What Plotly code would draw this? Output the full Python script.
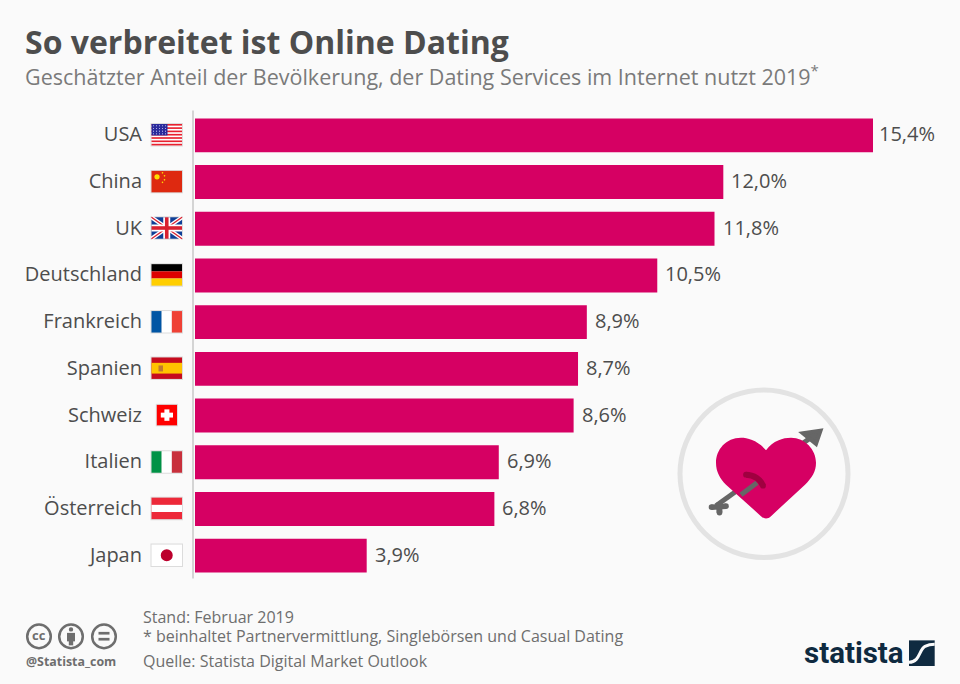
import plotly.graph_objects as go

countries = ["USA", "China", "UK", "Deutschland", "Frankreich", "Spanien", "Schweiz", "Italien", "Österreich", "Japan"]
shares = [15.4, 12.0, 11.8, 10.5, 8.9, 8.7, 8.6, 6.9, 6.8, 3.9]
share_labels = ["15,4%", "12,0%", "11,8%", "10,5%", "8,9%", "8,7%", "8,6%", "6,9%", "6,8%", "3,9%"]

W, H = 960, 684
L, R, T, B = 195, 960, 111.5, 579.5
FONT = "Open Sans"
PINK = "#d60063"
TXT = "#4d4d4d"
GREY = "#6e6e6e"
NAVY = "#0f2a40"


def px(x):
    return (x - L) / (R - L)


def py(y):
    return (B - y) / (B - T)


shapes = []
annos = []


def rect(x0, y0, x1, y1, color):
    shapes.append(dict(type="rect", xref="paper", yref="paper", x0=px(x0), x1=px(x1), y0=py(y0), y1=py(y1),
                       fillcolor=color, line_width=0, layer="above"))


def circle(cx, cy, r, fill="rgba(0,0,0,0)", line=None, lw=0):
    shapes.append(dict(type="circle", xref="paper", yref="paper", x0=px(cx - r), x1=px(cx + r), y0=py(cy - r),
                       y1=py(cy + r), fillcolor=fill, line=dict(color=line or "rgba(0,0,0,0)", width=lw),
                       layer="above"))


def path(cmds, fill=None, line=None, lw=0):
    parts = []
    for c in cmds:
        pts = " ".join(f"{px(c[i]):.5f},{py(c[i + 1]):.5f}" for i in range(1, len(c), 2))
        parts.append(f"{c[0]}{pts}")
    shapes.append(dict(type="path", xref="paper", yref="paper", path=" ".join(parts) + (" Z" if fill else ""),
                       fillcolor=fill or "rgba(0,0,0,0)", line=dict(color=line or "rgba(0,0,0,0)", width=lw),
                       layer="above"))


def seg(pts, color, lw):
    path([("M", *pts[0])] + [("L", *p) for p in pts[1:]], line=color, lw=lw)


def text(x, y, s, size, color=GREY, anchor="left", bold=False, font=FONT):
    annos.append(dict(xref="paper", yref="paper", x=px(x), y=py(y), text=f"<b>{s}</b>" if bold else s,
                      showarrow=False, xanchor=anchor, yanchor="middle", borderpad=0,
                      font=dict(family=font, size=size, color=color)))


def frame(x0, y0, x1, y1):
    shapes.append(dict(type="rect", xref="paper", yref="paper", x0=px(x0 - 1), x1=px(x1 + 1), y0=py(y0 - 1),
                       y1=py(y1 + 1), fillcolor="#dcdcdc", line_width=0, layer="above"))


# axis line
seg([(193, 110), (193, 579)], "#d4d4d4", 2)

# flags
fx0, fx1 = 151.5, 182
tops = [123.5, 170.5, 217, 264, 311, 357.5, 405, 451.5, 498, 545]
fh = 21.5

# USA
t = tops[0]
frame(fx0, t, fx1, t + fh)
rect(fx0, t, fx1, t + fh, "#ffffff")
for i in range(0, 13, 2):
    rect(fx0, t + i * fh / 13, fx1, t + (i + 1) * fh / 13, "#e8202e")
rect(fx0, t, fx0 + 16, t + 11.5, "#2a2a9c")
for r_ in range(4):
    for c_ in range(5):
        circle(fx0 + 2 + c_ * 3, t + 1.8 + r_ * 2.7, 0.55, fill="#c8c8f0")

# China
t = tops[1]
frame(fx0, t, fx1, t + fh)
rect(fx0, t, fx1, t + fh, "#de2910")
circle(fx0 + 5.5, t + 6, 2.6, fill="#ffde00")
for dx, dy in [(11, 2), (13, 5), (13, 9), (11, 11.5)]:
    circle(fx0 + dx, t + dy, 0.8, fill="#ffde00")

# UK
t = tops[2]
frame(fx0, t, fx1, t + fh)
rect(fx0, t, fx1, t + fh, "#0f3f96")
seg([(fx0, t), (fx1, t + fh)], "#ffffff", 4)
seg([(fx0, t + fh), (fx1, t)], "#ffffff", 4)
seg([(fx0, t), (fx1, t + fh)], "#d8202f", 1.3)
seg([(fx0, t + fh), (fx1, t)], "#d8202f", 1.3)
rect(fx0, t + fh / 2 - 3.5, fx1, t + fh / 2 + 3.5, "#ffffff")
rect((fx0 + fx1) / 2 - 3.5, t, (fx0 + fx1) / 2 + 3.5, t + fh, "#ffffff")
rect(fx0, t + fh / 2 - 1.8, fx1, t + fh / 2 + 1.8, "#d8202f")
rect((fx0 + fx1) / 2 - 1.8, t, (fx0 + fx1) / 2 + 1.8, t + fh, "#d8202f")

# Germany
t = tops[3]
frame(fx0, t, fx1, t + fh)
rect(fx0, t, fx1, t + fh / 3, "#000000")
rect(fx0, t + fh / 3, fx1, t + 2 * fh / 3, "#dd0000")
rect(fx0, t + 2 * fh / 3, fx1, t + fh, "#ffce00")

# France
t = tops[4]
w3 = (fx1 - fx0) / 3
frame(fx0, t, fx1, t + fh)
rect(fx0, t, fx0 + w3, t + fh, "#0055a4")
rect(fx0 + w3, t, fx0 + 2 * w3, t + fh, "#ffffff")
rect(fx0 + 2 * w3, t, fx1, t + fh, "#ef4135")

# Spain
t = tops[5]
frame(fx0, t, fx1, t + fh)
rect(fx0, t, fx1, t + fh, "#c60b1e")
rect(fx0, t + fh / 4, fx1, t + 3 * fh / 4, "#ffc400")
rect(fx0 + 7, t + 8, fx0 + 11.5, t + 14, "#c07a30")

# Switzerland
t = tops[6]
frame(156.8, t, 177, t + 20.5)
rect(156.8, t, 177, t + 20.5, "#ff0000")
rect(164.4, t + 4.5, 169.4, t + 16, "#ffffff")
rect(160.8, t + 7.8, 173, t + 12.7, "#ffffff")

# Italy
t = tops[7]
frame(fx0, t, fx1, t + fh)
rect(fx0, t, fx0 + w3, t + fh, "#009246")
rect(fx0 + w3, t, fx0 + 2 * w3, t + fh, "#ffffff")
rect(fx0 + 2 * w3, t, fx1, t + fh, "#c8303c")

# Austria
t = tops[8]
frame(fx0, t, fx1, t + fh)
rect(fx0, t, fx1, t + fh, "#ed2939")
rect(fx0, t + fh / 3, fx1, t + 2 * fh / 3, "#ffffff")

# Japan
t = tops[9]
frame(fx0, t, fx1, t + fh)
rect(fx0, t, fx1, t + fh, "#ffffff")
circle((fx0 + fx1) / 2, t + fh / 2, 6, fill="#bc002d")

# Ring
circle(764, 474, 84, fill="rgba(0,0,0,0)", line="#e3e3e3", lw=5)

# Arrow behind the heart
seg([(716, 506), (812, 437)], "#666666", 5)
path([("M", 803, 433.5), ("L", 820.5, 431), ("L", 816, 444)], fill="#666666", line="#666666", lw=4)
seg([(711.5, 507.5), (726, 506.5)], "#666666", 5.5)
seg([(719, 503), (719.5, 513)], "#666666", 6)
for cx_, cy_ in [(711.5, 507.5), (719.5, 513), (726, 506.5)]:
    circle(cx_, cy_, 2.8, fill="#666666")

# Heart
path([("M", 766, 450.5),
      ("C", 758, 441, 748, 438, 741, 438),
      ("C", 726, 438, 716, 450, 716, 463),
      ("C", 716, 472, 720, 479, 726, 485),
      ("L", 761, 516.5),
      ("C", 764, 519.5, 768, 519.5, 771, 516.5),
      ("L", 805, 485),
      ("C", 812, 478, 816, 472, 816, 463),
      ("C", 816, 450, 805, 438, 791, 438),
      ("C", 783, 438, 773, 441, 766, 450.5)], fill=PINK)

# Arrow through the heart
seg([(741, 495), (757, 483)], "#666666", 5)
path([("M", 746, 475), ("C", 754, 475, 761, 480, 763, 486)], line="#a00040", lw=6)
circle(746, 475, 2.9, fill="#a00040")
circle(763, 486, 2.9, fill="#a00040")

# Creative commons icons
for cx in (39, 71, 104):
    circle(cx, 637, 11.8, fill="rgba(0,0,0,0)", line="#6e6e6e", lw=2.5)
text(39, 636, "cc", 13, "#6e6e6e", "center", True)
circle(71, 630, 2.2, fill="#6e6e6e")
rect(67, 633.5, 75, 642, "#6e6e6e")
rect(68.8, 640, 73.2, 646, "#6e6e6e")
rect(98.5, 632.5, 109.5, 635.2, "#6e6e6e")
rect(98.5, 638.5, 109.5, 641.2, "#6e6e6e")

# Titles and footer
text(24, 41, "So verbreitet ist Online Dating", 32, TXT, bold=True)
text(24, 75, "Geschätzter Anteil der Bevölkerung, der Dating Services im Internet nutzt 2019<sup>*</sup>", 21.5, "#7a7a7a")
text(142, 617.5, "Stand: Februar 2019", 16)
text(142, 636.5, "* beinhaltet Partnervermittlung, Singlebörsen und Casual Dating", 16)
text(142, 661.5, "Quelle: Statista Digital Market Outlook", 16)
text(25, 662, "@Statista_com", 12.4, GREY, bold=True)

# Statista logo
text(802.5, 654, "statista", 29.5, NAVY, bold=True, font="Roboto")
rect(909, 641, 934.7, 666.7, NAVY)
path([("M", 909, 663), ("C", 920, 663, 919, 650, 925, 647), ("C", 928, 645.5, 931, 645, 934.7, 645)], line="#fafafa", lw=3)

# Value labels placed by the data scales
for v, c, lab in zip(shares, countries, share_labels):
    annos.append(dict(xref="x", yref="y", x=v, y=c, text=lab, showarrow=False, xanchor="left", yanchor="middle",
                      xshift=4.5 if v == max(shares) else 7, yshift=1.5, borderpad=0,
                      font=dict(family=FONT, size=20, color=TXT)))

fig = go.Figure(go.Bar(
    x=shares, y=countries, orientation="h",
    marker=dict(color=PINK, line_width=0),
    cliponaxis=False,
))
fig.update_layout(
    width=W, height=H, autosize=False,
    margin=dict(l=L, r=W - R, t=T, b=H - B, pad=0),
    paper_bgcolor="#fafafa", plot_bgcolor="#fafafa",
    showlegend=False, bargap=0.275,
    shapes=shapes, annotations=annos,
    xaxis=dict(range=[0, (R - L) / ((873 - L) / 15.4)], visible=False, fixedrange=True),
    yaxis=dict(autorange="reversed", showgrid=False, zeroline=False, showline=False, ticks="",
               ticklabelstandoff=52, ticklabelshift=1, tickfont=dict(family=FONT, size=20, color=TXT), fixedrange=True),
)
fig.write_html("out.html", config=dict(displayModeBar=False),
               post_script="document.body.style.margin='0';document.body.style.background='#fafafa';document.documentElement.style.overflow='hidden';")
